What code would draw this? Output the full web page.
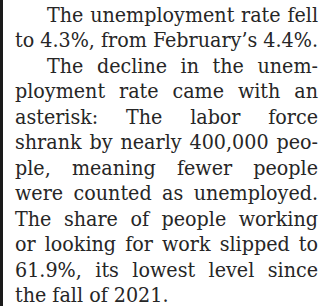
<!DOCTYPE html>
<html>
<head>
<meta charset="utf-8">
<script src="https://cdn.jsdelivr.net/npm/chart.js@4"></script>
<style>
  html, body { margin: 0; padding: 0; background: #fff; }
  body { width: 335px; height: 306px; overflow: hidden; position: relative; }
  #bar { position: absolute; left: 0; top: 0; width: 3px; height: 306px; background: #1a1a1a; }
  #col { position: absolute; left: 15px; top: 0px; width: 303px;
         font-family: "DejaVu Serif Condensed", "DejaVu Serif", serif; color: #262626; }
  .ln { position: absolute; left: 0; width: 303px; white-space: nowrap; text-align: justify; text-align-last: justify; line-height: 1; }
  .ind { padding-left: 32px; width: 271px; }
  .last { text-align-last: left; }
</style>
</head>
<body>
<div id="bar"></div>
<div id="col"></div>
<script>
const paragraphLines = [
  "The unemployment rate fell",
  "to 4.3%, from February\u2019s 4.4%.",
  "The decline in the unem-",
  "ployment rate came with an",
  "asterisk: The labor force",
  "shrank by nearly 400,000 peo-",
  "ple, meaning fewer people",
  "were counted as unemployed.",
  "The share of people working",
  "or looking for work slipped to",
  "61.9%, its lowest level since",
  "the fall of 2021."
];
const indentedLines = [0, 2];
const lastLines = [11];
const fam = '"DejaVu Serif Condensed", "DejaVu Serif", serif';
const cv = document.createElement('canvas').getContext('2d');
cv.font = '100px ' + fam;
const w100 = cv.measureText(paragraphLines[1]).width;
const fs = 100 * 303 / w100;
const col = document.getElementById('col');
const firstBaseline = 21, lh = 25.5;
paragraphLines.forEach((t, i) => {
  const d = document.createElement('div');
  d.className = 'ln' + (indentedLines.includes(i) ? ' ind' : '') + (lastLines.includes(i) ? ' last' : '');
  d.style.fontSize = fs + 'px';
  d.textContent = t;
  // place so that baseline ~ firstBaseline + i*lh (ascent approx 0.76em for line-height 1)
  d.style.top = (firstBaseline + i * lh - fs * 0.80) + 'px';
  col.appendChild(d);
});
</script>
</body>
</html>
